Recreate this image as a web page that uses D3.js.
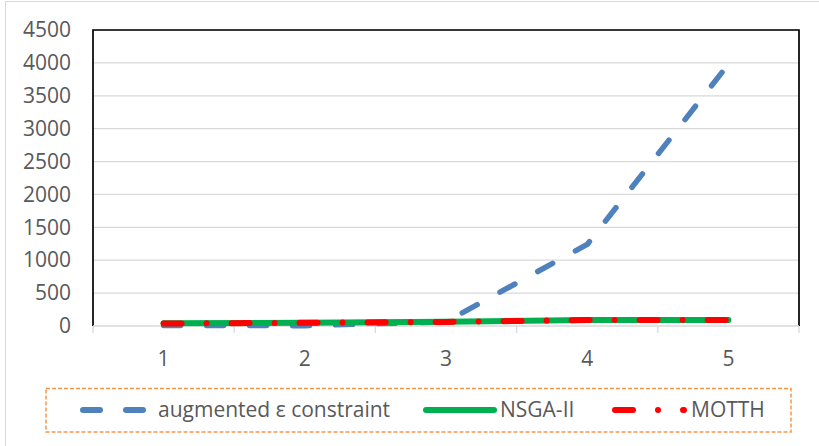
<!DOCTYPE html>
<html>
<head>
<meta charset="utf-8">
<script src="https://cdn.jsdelivr.net/npm/d3@7/dist/d3.min.js"></script>
<style>
  html, body { margin: 0; padding: 0; background: #fff; }
  svg { display: block; }
  text { font-family: "Open Sans", "Noto Sans", sans-serif; fill: #595959; }
</style>
</head>
<body>
<svg id="chart" width="819" height="446"></svg>
<script>
// Problem instances on the x axis
const categories = ["1", "2", "3", "4", "5"];

// Series values per instance
const augmentedEps = [8, 5, 65, 1240, 3980];
const nsga2 = [40, 50, 65, 92, 92];
const motth = [38, 48, 62, 90, 90];

// Value axis ticks
const yTicks = [0, 500, 1000, 1500, 2000, 2500, 3000, 3500, 4000, 4500];

const series = [
  { name: "augmented \u03b5 constraint", values: augmentedEps, color: "#4F81BD", width: 5.5, dash: "17,26" },
  { name: "NSGA-II", values: nsga2, color: "#00B050", width: 6, dash: null },
  { name: "MOTTH", values: motth, color: "#FF0000", width: 6, dash: "18,25,0.01,25" }
];

const svg = d3.select("#chart");
const plot = { left: 93, right: 799, top: 30, bottom: 326 };

// Chart frame
svg.append("rect")
  .attr("x", 5.5).attr("y", 1.5)
  .attr("width", 840).attr("height", 480)
  .attr("fill", "none").attr("stroke", "#D9D9D9").attr("stroke-width", 1);

const x = d3.scaleBand().domain(categories).range([plot.left, plot.right]).padding(0);
const y = d3.scaleLinear().domain([0, 4500]).range([plot.bottom, plot.top]);
const cx = c => x(c) + x.bandwidth() / 2;

// Horizontal gridlines
svg.append("g")
  .selectAll("line")
  .data(yTicks.filter(t => t > 0))
  .join("line")
  .attr("x1", plot.left).attr("x2", plot.right)
  .attr("y1", d => y(d)).attr("y2", d => y(d))
  .attr("stroke", "#D9D9D9").attr("stroke-width", 1.3);

// Value axis labels
const yAxis = d3.axisLeft(y).tickValues(yTicks).tickFormat(d3.format("d")).tickSize(0).tickPadding(22);
const yg = svg.append("g").attr("transform", `translate(${plot.left},0)`).call(yAxis);
yg.select(".domain").remove();
yg.selectAll("text").attr("font-size", 21).attr("fill", "#595959")
  .style("font-family", "'Open Sans', sans-serif");

// Category axis: line, tick marks between categories, labels
const xAxis = d3.axisBottom(x).tickSize(0).tickPadding(25);
const xg = svg.append("g").attr("transform", `translate(0,${plot.bottom})`).call(xAxis);
xg.select(".domain").remove();
xg.selectAll("text").attr("font-size", 21).attr("fill", "#595959")
  .style("font-family", "'Open Sans', sans-serif");

const boundaries = categories.map(c => x(c)).concat([x(categories[categories.length - 1]) + x.bandwidth()]);
svg.append("g")
  .selectAll("line")
  .data(boundaries)
  .join("line")
  .attr("x1", d => d).attr("x2", d => d)
  .attr("y1", plot.bottom).attr("y2", plot.bottom + 7)
  .attr("stroke", "#D9D9D9").attr("stroke-width", 1.3);

// Plot area border (top, left, right) and category axis line
svg.append("path")
  .attr("d", `M${plot.left},${plot.bottom}V${plot.top}H${plot.right}V${plot.bottom}`)
  .attr("fill", "none").attr("stroke", "#000").attr("stroke-width", 1.7);
svg.append("line")
  .attr("x1", plot.left).attr("x2", plot.right)
  .attr("y1", plot.bottom).attr("y2", plot.bottom)
  .attr("stroke", "#D9D9D9").attr("stroke-width", 1.5);

// Series lines
const line = d3.line().x((d, i) => cx(categories[i])).y(d => y(d));
series.forEach(s => {
  svg.append("path")
    .datum(s.values)
    .attr("d", line)
    .attr("fill", "none")
    .attr("stroke", s.color)
    .attr("stroke-width", s.width)
    .attr("stroke-linecap", "round")
    .attr("stroke-linejoin", "round")
    .attr("stroke-dasharray", s.dash);
});

// Legend
const legend = svg.append("g");
legend.append("rect")
  .attr("x", 46).attr("y", 388.5).attr("width", 745).attr("height", 43.5)
  .attr("fill", "none").attr("stroke", "#F79646").attr("stroke-width", 1.5)
  .attr("stroke-dasharray", "4,2");

const legendItems = [
  { x1: 83, x2: 144, tx: 158 },
  { x1: 426, x2: 494, tx: 500 },
  { x1: 615, x2: 684, tx: 691 }
];
const ly = 410;
series.forEach((s, i) => {
  const it = legendItems[i];
  legend.append("line")
    .attr("x1", it.x1).attr("x2", it.x2).attr("y1", ly).attr("y2", ly)
    .attr("stroke", s.color).attr("stroke-width", 6)
    .attr("stroke-linecap", "round")
    .attr("stroke-dasharray", s.dash);
  legend.append("text")
    .attr("x", it.tx).attr("y", ly + 7)
    .attr("font-size", 21)
    .text(s.name);
});
</script>
</body>
</html>
